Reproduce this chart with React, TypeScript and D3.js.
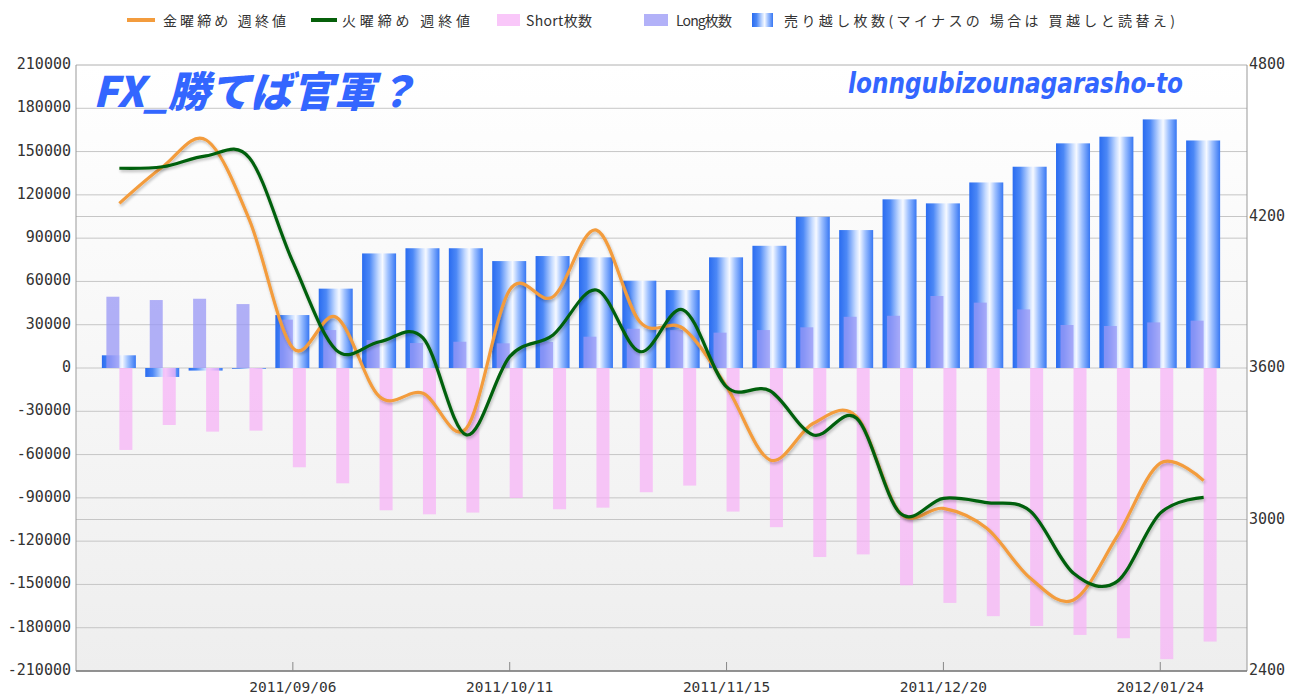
import React, { useEffect, useRef } from 'react';
import * as d3 from 'd3';

// weekly data (Tuesday dates)
const weeks = [
  '2011-08-09', '2011-08-16', '2011-08-23', '2011-08-30', '2011-09-06', '2011-09-13',
  '2011-09-20', '2011-09-27', '2011-10-04', '2011-10-11', '2011-10-18', '2011-10-25',
  '2011-11-01', '2011-11-08', '2011-11-15', '2011-11-22', '2011-11-29', '2011-12-06',
  '2011-12-13', '2011-12-20', '2011-12-27', '2012-01-03', '2012-01-10', '2012-01-17',
  '2012-01-24', '2012-01-31',
];
const netShort = [
  8800, -6200, -1800, -500, 36700, 55000, 79400, 83000, 83000, 74100, 77600, 76700, 60500,
  54000, 76700, 84700, 104800, 95600, 116900, 114100, 128600, 139500, 155700, 160300, 172300, 157700,
];
const longPos = [
  49400, 47100, 48000, 44300, 33500, 26300, 19400, 17300, 18200, 17100, 18000, 21700, 27200,
  26300, 24500, 26300, 28200, 35500, 36200, 49900, 45300, 40600, 29800, 29100, 31600, 32800,
];
const shortPos = [
  -56800, -39500, -44100, -43400, -68800, -79900, -98600, -101400, -100200, -90100, -97900, -96800, -86100,
  -81500, -99500, -110300, -131000, -129200, -150600, -162800, -172000, -178800, -185000, -187300, -201800, -189600,
];
const friClose = [
  4252, 4397, 4503, 4186, 3679, 3801, 3486, 3500, 3361, 3909, 3882, 4146, 3783,
  3757, 3526, 3236, 3381, 3407, 3026, 3044, 2965, 2768, 2681, 2932, 3223, 3154,
];
const tueClose = [
  4391, 4397, 4440, 4432, 4020, 3671, 3704, 3719, 3335, 3645, 3731, 3909, 3665,
  3830, 3525, 3510, 3335, 3401, 3025, 3084, 3067, 3034, 2787, 2754, 3025, 3088,
];

const xDomain = ['2011-08-02', '2012-02-07'];
const leftTicks = [
  210000, 180000, 150000, 120000, 90000, 60000, 30000, 0,
  -30000, -60000, -90000, -120000, -150000, -180000, -210000,
];
const rightTicks = [4800, 4200, 3600, 3000, 2400];
const dateTicks = ['2011-09-06', '2011-10-11', '2011-11-15', '2011-12-20', '2012-01-24'];

const legendFri = '金曜締め 週終値';
const legendTue = '火曜締め 週終値';
const legendShort = 'Short枚数';
const legendLong = 'Long枚数';
const legendNet = '売り越し枚数(マイナスの 場合は 買越しと読替え)';
const titleText = 'FX_勝てば官軍？';
const authorText = 'lonngubizounagarasho-to';

const W = 1298;
const H = 697;

const App: React.FC = () => {
  const svgRef = useRef<SVGSVGElement>(null);

  useEffect(() => {
    if (!svgRef.current) return;
    const svg = d3.select(svgRef.current);
    svg.selectAll('*').remove();

    const margin = { top: 65, right: 51, bottom: 26, left: 76 };
    const x0 = margin.left;
    const x1 = W - margin.right;
    const y0 = margin.top;
    const y1 = H - margin.bottom;

    const parse = d3.utcParse('%Y-%m-%d');
    const dates = weeks.map((d) => parse(d) as Date);

    const xScale = d3
      .scaleUtc()
      .domain(xDomain.map((d) => parse(d) as Date))
      .range([x0, x1]);
    const yScale = d3.scaleLinear().domain([-210000, 210000]).range([y1, y0]);
    const y2Scale = d3.scaleLinear().domain([2400, 4800]).range([y1, y0]);

    const defs = svg.append('defs');
    const bg = defs
      .append('linearGradient')
      .attr('id', 'plotBg')
      .attr('x1', 0).attr('x2', 0).attr('y1', 0).attr('y2', 1);
    bg.append('stop').attr('offset', '0%').attr('stop-color', '#ffffff');
    bg.append('stop').attr('offset', '100%').attr('stop-color', '#eeeeee');

    const net = defs
      .append('linearGradient')
      .attr('id', 'netGrad')
      .attr('x1', 0).attr('x2', 1).attr('y1', 0).attr('y2', 0);
    [
      ['0%', '#2a6cf0'],
      ['22%', '#4c88f6'],
      ['48%', '#c6dbff'],
      ['60%', '#f6f9ff'],
      ['76%', '#9fc1ff'],
      ['100%', '#3777f3'],
    ].forEach(([o, c]) => net.append('stop').attr('offset', o).attr('stop-color', c));

    const shadow = defs.append('filter').attr('id', 'lineShadow').attr('x', '-5%').attr('y', '-5%').attr('width', '110%').attr('height', '120%');
    shadow.append('feGaussianBlur').attr('in', 'SourceAlpha').attr('stdDeviation', 1.5).attr('result', 'b');
    shadow.append('feOffset').attr('in', 'b').attr('dx', 1).attr('dy', 2).attr('result', 'o');
    shadow.append('feComponentTransfer').attr('in', 'o').attr('result', 's')
      .append('feFuncA').attr('type', 'linear').attr('slope', 0.25);
    const merge = shadow.append('feMerge');
    merge.append('feMergeNode').attr('in', 's');
    merge.append('feMergeNode').attr('in', 'SourceGraphic');

    // plot background
    svg.append('rect')
      .attr('x', x0).attr('y', y0)
      .attr('width', x1 - x0).attr('height', y1 - y0)
      .attr('fill', 'url(#plotBg)');

    // grid lines
    const grid = svg.append('g');
    grid.selectAll('.gl')
      .data(leftTicks)
      .join('line')
      .attr('x1', x0).attr('x2', x1)
      .attr('y1', (d) => yScale(d)).attr('y2', (d) => yScale(d))
      .attr('stroke', (d) => (d === 210000 ? '#b0b0b0' : '#c6c6c6'))
      .attr('stroke-width', 1);
    grid.selectAll('.gr')
      .data(rightTicks.filter((d) => d === 4200 || d === 3000))
      .join('line')
      .attr('x1', x0).attr('x2', x1)
      .attr('y1', (d) => y2Scale(d)).attr('y2', (d) => y2Scale(d))
      .attr('stroke', '#c6c6c6')
      .attr('stroke-width', 1);

    // net short bars
    const bars = svg.append('g');
    bars.selectAll('.net')
      .data(netShort)
      .join('rect')
      .attr('x', (_, i) => xScale(dates[i]) - 17.5)
      .attr('width', 34)
      .attr('y', (d) => yScale(Math.max(0, d)))
      .attr('height', (d) => Math.abs(yScale(d) - yScale(0)))
      .attr('fill', 'url(#netGrad)');

    bars.selectAll('.long')
      .data(longPos)
      .join('rect')
      .attr('x', (_, i) => xScale(dates[i]) - 13)
      .attr('width', 13)
      .attr('y', (d) => yScale(d))
      .attr('height', (d) => yScale(0) - yScale(d))
      .attr('fill', '#9897f6')
      .attr('fill-opacity', 0.75);

    bars.selectAll('.short')
      .data(shortPos)
      .join('rect')
      .attr('x', (_, i) => xScale(dates[i]))
      .attr('width', 13)
      .attr('y', yScale(0))
      .attr('height', (d) => yScale(d) - yScale(0))
      .attr('fill', '#f6b2f6')
      .attr('fill-opacity', 0.72);

    // lines
    const line = d3
      .line<number>()
      .x((_, i) => xScale(dates[i]))
      .y((d) => y2Scale(d))
      .curve(d3.curveCatmullRom.alpha(0));

    svg.append('path')
      .attr('d', line(friClose) || '')
      .attr('fill', 'none')
      .attr('stroke', '#f39c3d')
      .attr('stroke-width', 3.2)
      .attr('filter', 'url(#lineShadow)');
    svg.append('path')
      .attr('d', line(tueClose) || '')
      .attr('fill', 'none')
      .attr('stroke', '#06600a')
      .attr('stroke-width', 3.2)
      .attr('filter', 'url(#lineShadow)');

    // axes frame
    svg.append('line').attr('x1', x0).attr('x2', x0).attr('y1', y0).attr('y2', y1).attr('stroke', '#999');
    svg.append('line').attr('x1', x1).attr('x2', x1).attr('y1', y0).attr('y2', y1).attr('stroke', '#999');
    svg.append('line').attr('x1', x0).attr('x2', x1).attr('y1', y1).attr('y2', y1).attr('stroke', '#777').attr('stroke-width', 1.5);

    const numFont = '"DejaVu Sans Mono", monospace';

    // left axis labels
    svg.append('g')
      .selectAll('text')
      .data(leftTicks)
      .join('text')
      .attr('x', 71)
      .attr('y', (d) => yScale(d) - 1)
      .attr('text-anchor', 'end')
      .attr('dominant-baseline', 'central')
      .attr('font-family', numFont)
      .attr('font-size', 15)
      .attr('fill', '#333')
      .text((d) => String(d));

    // right axis labels
    svg.append('g')
      .selectAll('text')
      .data(rightTicks)
      .join('text')
      .attr('x', 1249)
      .attr('y', (d) => y2Scale(d) - 1)
      .attr('dominant-baseline', 'central')
      .attr('font-family', numFont)
      .attr('font-size', 15)
      .attr('fill', '#333')
      .text((d) => String(d));

    // x axis ticks + labels
    const fmt = d3.utcFormat('%Y/%m/%d');
    const xt = svg.append('g').selectAll('g').data(dateTicks.map((d) => parse(d) as Date)).join('g');
    xt.append('line')
      .attr('x1', (d) => xScale(d)).attr('x2', (d) => xScale(d))
      .attr('y1', y1 - 9).attr('y2', y1)
      .attr('stroke', '#888');
    xt.append('text')
      .attr('x', (d) => xScale(d))
      .attr('y', 692)
      .attr('text-anchor', 'middle')
      .attr('font-family', numFont)
      .attr('font-size', 14.5)
      .attr('fill', '#333')
      .text((d) => fmt(d));

    // legend
    const jp = '"Noto Sans CJK JP", sans-serif';
    const lg = svg.append('g').attr('font-family', jp).attr('font-size', 14).attr('fill', '#333');
    const ly = 20;
    lg.append('line').attr('x1', 127).attr('x2', 155).attr('y1', ly).attr('y2', ly).attr('stroke', '#f39c3d').attr('stroke-width', 4);
    lg.append('text').attr('x', 163).attr('y', ly).attr('dominant-baseline', 'central').attr('textLength', 123).attr('lengthAdjust', 'spacing').text(legendFri);
    lg.append('line').attr('x1', 311).attr('x2', 337).attr('y1', ly).attr('y2', ly).attr('stroke', '#06600a').attr('stroke-width', 4);
    lg.append('text').attr('x', 342).attr('y', ly).attr('dominant-baseline', 'central').attr('textLength', 128).attr('lengthAdjust', 'spacing').text(legendTue);
    lg.append('rect').attr('x', 497).attr('y', ly - 6).attr('width', 23).attr('height', 12).attr('fill', '#f6b2f6').attr('fill-opacity', 0.72);
    lg.append('text').attr('x', 526).attr('y', ly).attr('dominant-baseline', 'central').attr('textLength', 66).attr('lengthAdjust', 'spacing').text(legendShort);
    lg.append('rect').attr('x', 644).attr('y', ly - 6).attr('width', 24).attr('height', 12).attr('fill', '#9897f6').attr('fill-opacity', 0.75);
    lg.append('text').attr('x', 676).attr('y', ly).attr('dominant-baseline', 'central').attr('textLength', 56).attr('lengthAdjust', 'spacing').text(legendLong);
    lg.append('rect').attr('x', 752).attr('y', ly - 7).attr('width', 21).attr('height', 14).attr('fill', 'url(#netGrad)');
    lg.append('text').attr('x', 784).attr('y', ly).attr('dominant-baseline', 'central').attr('textLength', 391).attr('lengthAdjust', 'spacing').text(legendNet);

    // overlay titles
    svg.append('text')
      .attr('x', 93)
      .attr('y', 107)
      .attr('font-family', jp)
      .attr('font-size', 42)
      .attr('font-weight', 900)
      .attr('font-style', 'italic')
      .attr('fill', '#3366ff')
      .attr('textLength', 324)
      .attr('lengthAdjust', 'spacingAndGlyphs')
      .text(titleText);
    svg.append('text')
      .attr('x', 848)
      .attr('y', 93)
      .attr('font-family', '"DejaVu Sans", sans-serif')
      .attr('font-stretch', 'condensed')
      .attr('font-size', 28)
      .attr('font-weight', 'bold')
      .attr('font-style', 'italic')
      .attr('fill', '#3366ff')
      .attr('textLength', 335)
      .attr('lengthAdjust', 'spacingAndGlyphs')
      .text(authorText);
  }, []);

  return (
    <svg
      ref={svgRef}
      width={W}
      height={H}
      style={{ position: 'absolute', left: 0, top: 0, background: '#fff' }}
    />
  );
};

export default App;
